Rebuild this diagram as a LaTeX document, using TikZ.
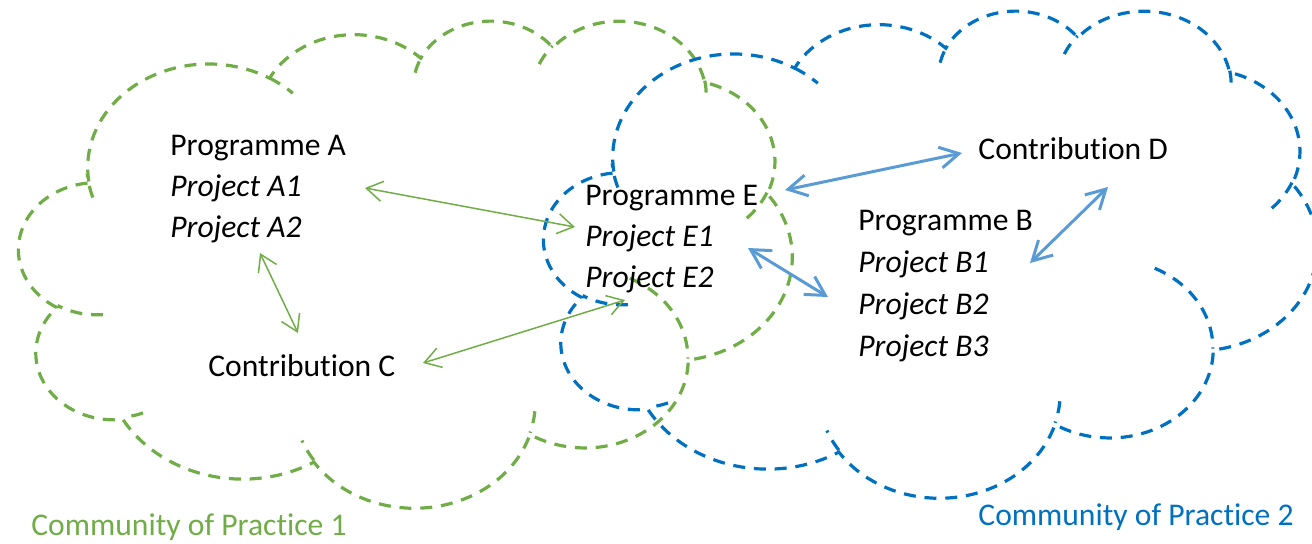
\documentclass[tikz,border=0pt]{standalone}
\usepackage{fontspec}
\setmainfont{Carlito}[Ligatures=NoCommon]
\usetikzlibrary{arrows.meta}
\definecolor{cpgreen}{HTML}{70AD47}
\definecolor{cpblue}{HTML}{0070C0}
\definecolor{arblue}{HTML}{5B9BD5}
\makeatletter
% one arc of the cloud outline, in the unit square (visual angles as in DrawingML)
\newcommand\clarc[4]{%
  \pgfmathsetmacro\cl@ta{atan2((#1)*sin(#3),(#2)*cos(#3))}%
  \pgfmathsetmacro\cl@tb{atan2((#1)*sin((#3)+(#4)),(#2)*cos((#3)+(#4)))}%
  \pgfmathsetmacro\cl@tb{(\cl@tb<\cl@ta) ? (\cl@tb+360) : (\cl@tb)}%
  \pgfmathsetmacro\cl@cx{\cl@px-(#1)*cos(\cl@ta)}%
  \pgfmathsetmacro\cl@cy{\cl@py-(#2)*sin(\cl@ta)}%
  \xdef\cl@path{\unexpanded\expandafter{\cl@path} -- plot[domain=\cl@ta:\cl@tb,samples=40,variable=\noexpand\t] ({\cl@cx+#1*cos(\noexpand\t)},{\cl@cy+#2*sin(\noexpand\t)})}%
  \pgfmathsetmacro\cl@px{\cl@cx+(#1)*cos(\cl@tb)}%
  \pgfmathsetmacro\cl@py{\cl@cy+(#2)*sin(\cl@tb)}%
}
\newcommand\clcrease[6]{%
  \def\cl@px{#1}\def\cl@py{#2}\xdef\cl@path{(#1,#2)}%
  \clarc{#3}{#4}{#5}{#6}%
  \expandafter\draw\cl@path;}
\newcommand\drawcloud{%
  \def\cl@px{0.090278}\def\cl@py{0.332639}%
  \xdef\cl@path{(\cl@px,\cl@py)}%
  \clarc{0.156319}{0.212731}{-190.48748}{123.78053}%
  \clarc{0.123449}{0.168218}{-144.10238}{89.94523}%
  \clarc{0.101042}{0.137616}{-145.80792}{99.72302}%
  \clarc{0.112431}{0.152662}{-130.98607}{117.24173}%
  \clarc{0.123449}{0.168356}{-78.70888}{109.02692}%
  \clarc{0.156829}{0.213426}{-46.26725}{130.26900}%
  \clarc{0.133912}{0.182106}{0.62502}{114.03333}%
  \clarc{0.156296}{0.213310}{22.45160}{115.17255}%
  \clarc{0.178704}{0.244051}{66.24263}{75.71102}%
  \clarc{0.100926}{0.136991}{-274.94208}{146.73557}%
  \clarc{0.100579}{0.137616}{-246.82850}{152.51885}%
  \expandafter\draw\cl@path -- cycle;%
  \clcrease{0.108634}{0.605949}{0.100579}{0.137616}{86.7420}{26.4295}%
  \clcrease{0.160370}{0.807847}{0.100926}{0.136991}{73.6105}{11.4475}%
  \clcrease{0.381435}{0.904861}{0.156296}{0.213310}{137.6242}{14.0811}%
  \clcrease{0.667292}{0.804421}{0.156296}{0.213310}{6.4533}{15.9984}%
  \clcrease{0.790023}{0.531343}{0.133912}{0.182106}{-70.2924}{70.9174}%
  \clcrease{0.967546}{0.355417}{0.123449}{0.168356}{30.3180}{27.7515}%
  \clcrease{0.887130}{0.125602}{0.112431}{0.152662}{-13.7443}{14.8589}%
  \clcrease{0.673102}{0.091481}{0.112431}{0.152662}{-149.1815}{18.1969}%
  \clcrease{0.512523}{0.109259}{0.101042}{0.137616}{-163.4943}{17.6999}%
  \clcrease{0.324074}{0.120185}{0.156319}{0.212731}{-66.7070}{12.3194}%
  \clcrease{0.095532}{0.365486}{0.156319}{0.212731}{155.9402}{17.8203}%
}
\makeatother
\tikzset{
  cloudline/.style={line width=1.6pt, dash pattern=on 6pt off 4.4pt},
  lbl/.style={inner sep=0pt, anchor=base west, font=\fontsize{15.8}{20}\selectfont},
  ital/.style={lbl, font=\fontsize{15.8}{20}\selectfont\itshape},
  garrow/.style={cpgreen, line width=0.75pt,
    {Straight Barb[length=8pt,width=10pt]}-{Straight Barb[length=8pt,width=10pt]}},
  barrow/.style={arblue, line width=1.5pt,
    {Straight Barb[length=9.5pt,width=10.5pt]}-{Straight Barb[length=9.5pt,width=10.5pt]}},
}
\begin{document}
\begin{tikzpicture}[x=0.5pt,y=-0.5pt]
\useasboundingbox (0,0) rectangle (1312,543);
\clip (0,0) rectangle (1312,543);
% clouds
\begin{scope}[xshift=9.5pt,yshift=-9.75pt,x=386.5pt,y=-243.5pt,cpgreen,cloudline]
  \drawcloud
\end{scope}
\begin{scope}[xshift=272pt,yshift=-4.75pt,x=386.5pt,y=-243.5pt,cpblue,cloudline]
  \drawcloud
\end{scope}
% texts
\node[lbl]  (progA)  at (170,155) {Programme A};
\node[ital] (projA1) at (170,196) {Project A1};
\node[ital] (projA2) at (170,237) {Project A2};
\node[lbl]  (contC)  at (208,376) {Contribution C};
\node[lbl]  (progE)  at (585,205) {Programme E};
\node[ital] (projE1) at (585,246) {Project E1};
\node[ital] (projE2) at (585,287) {Project E2};
\node[lbl]  (contD)  at (978,159) {Contribution D};
\node[lbl]  (progB)  at (858,230) {Programme B};
\node[ital] (projB1) at (858,272) {Project B1};
\node[ital] (projB2) at (858,314) {Project B2};
\node[ital] (projB3) at (858,356) {Project B3};
\node[lbl, text=cpgreen] (cop1) at (31,535) {Community of Practice 1};
\node[lbl, text=cpblue]  (cop2) at (978,525) {Community of Practice 2};
% arrow ends
\coordinate (g1a) at (365,188); \coordinate (g1b) at (575,227);
\coordinate (g2a) at (260,253); \coordinate (g2b) at (298,333);
\coordinate (g3a) at (423,363); \coordinate (g3b) at (625,300);
\coordinate (b1a) at (785,190); \coordinate (b1b) at (962,153);
\coordinate (b2a) at (748,248); \coordinate (b2b) at (828,297);
\coordinate (b3a) at (1030,263); \coordinate (b3b) at (1108,187);
\draw[garrow] (g1a) -- (g1b);
\draw[garrow] (g2a) -- (g2b);
\draw[garrow] (g3a) -- (g3b);
\draw[barrow] (b1a) -- (b1b);
\draw[barrow] (b2a) -- (b2b);
\draw[barrow] (b3a) -- (b3b);
\end{tikzpicture}
\end{document}
